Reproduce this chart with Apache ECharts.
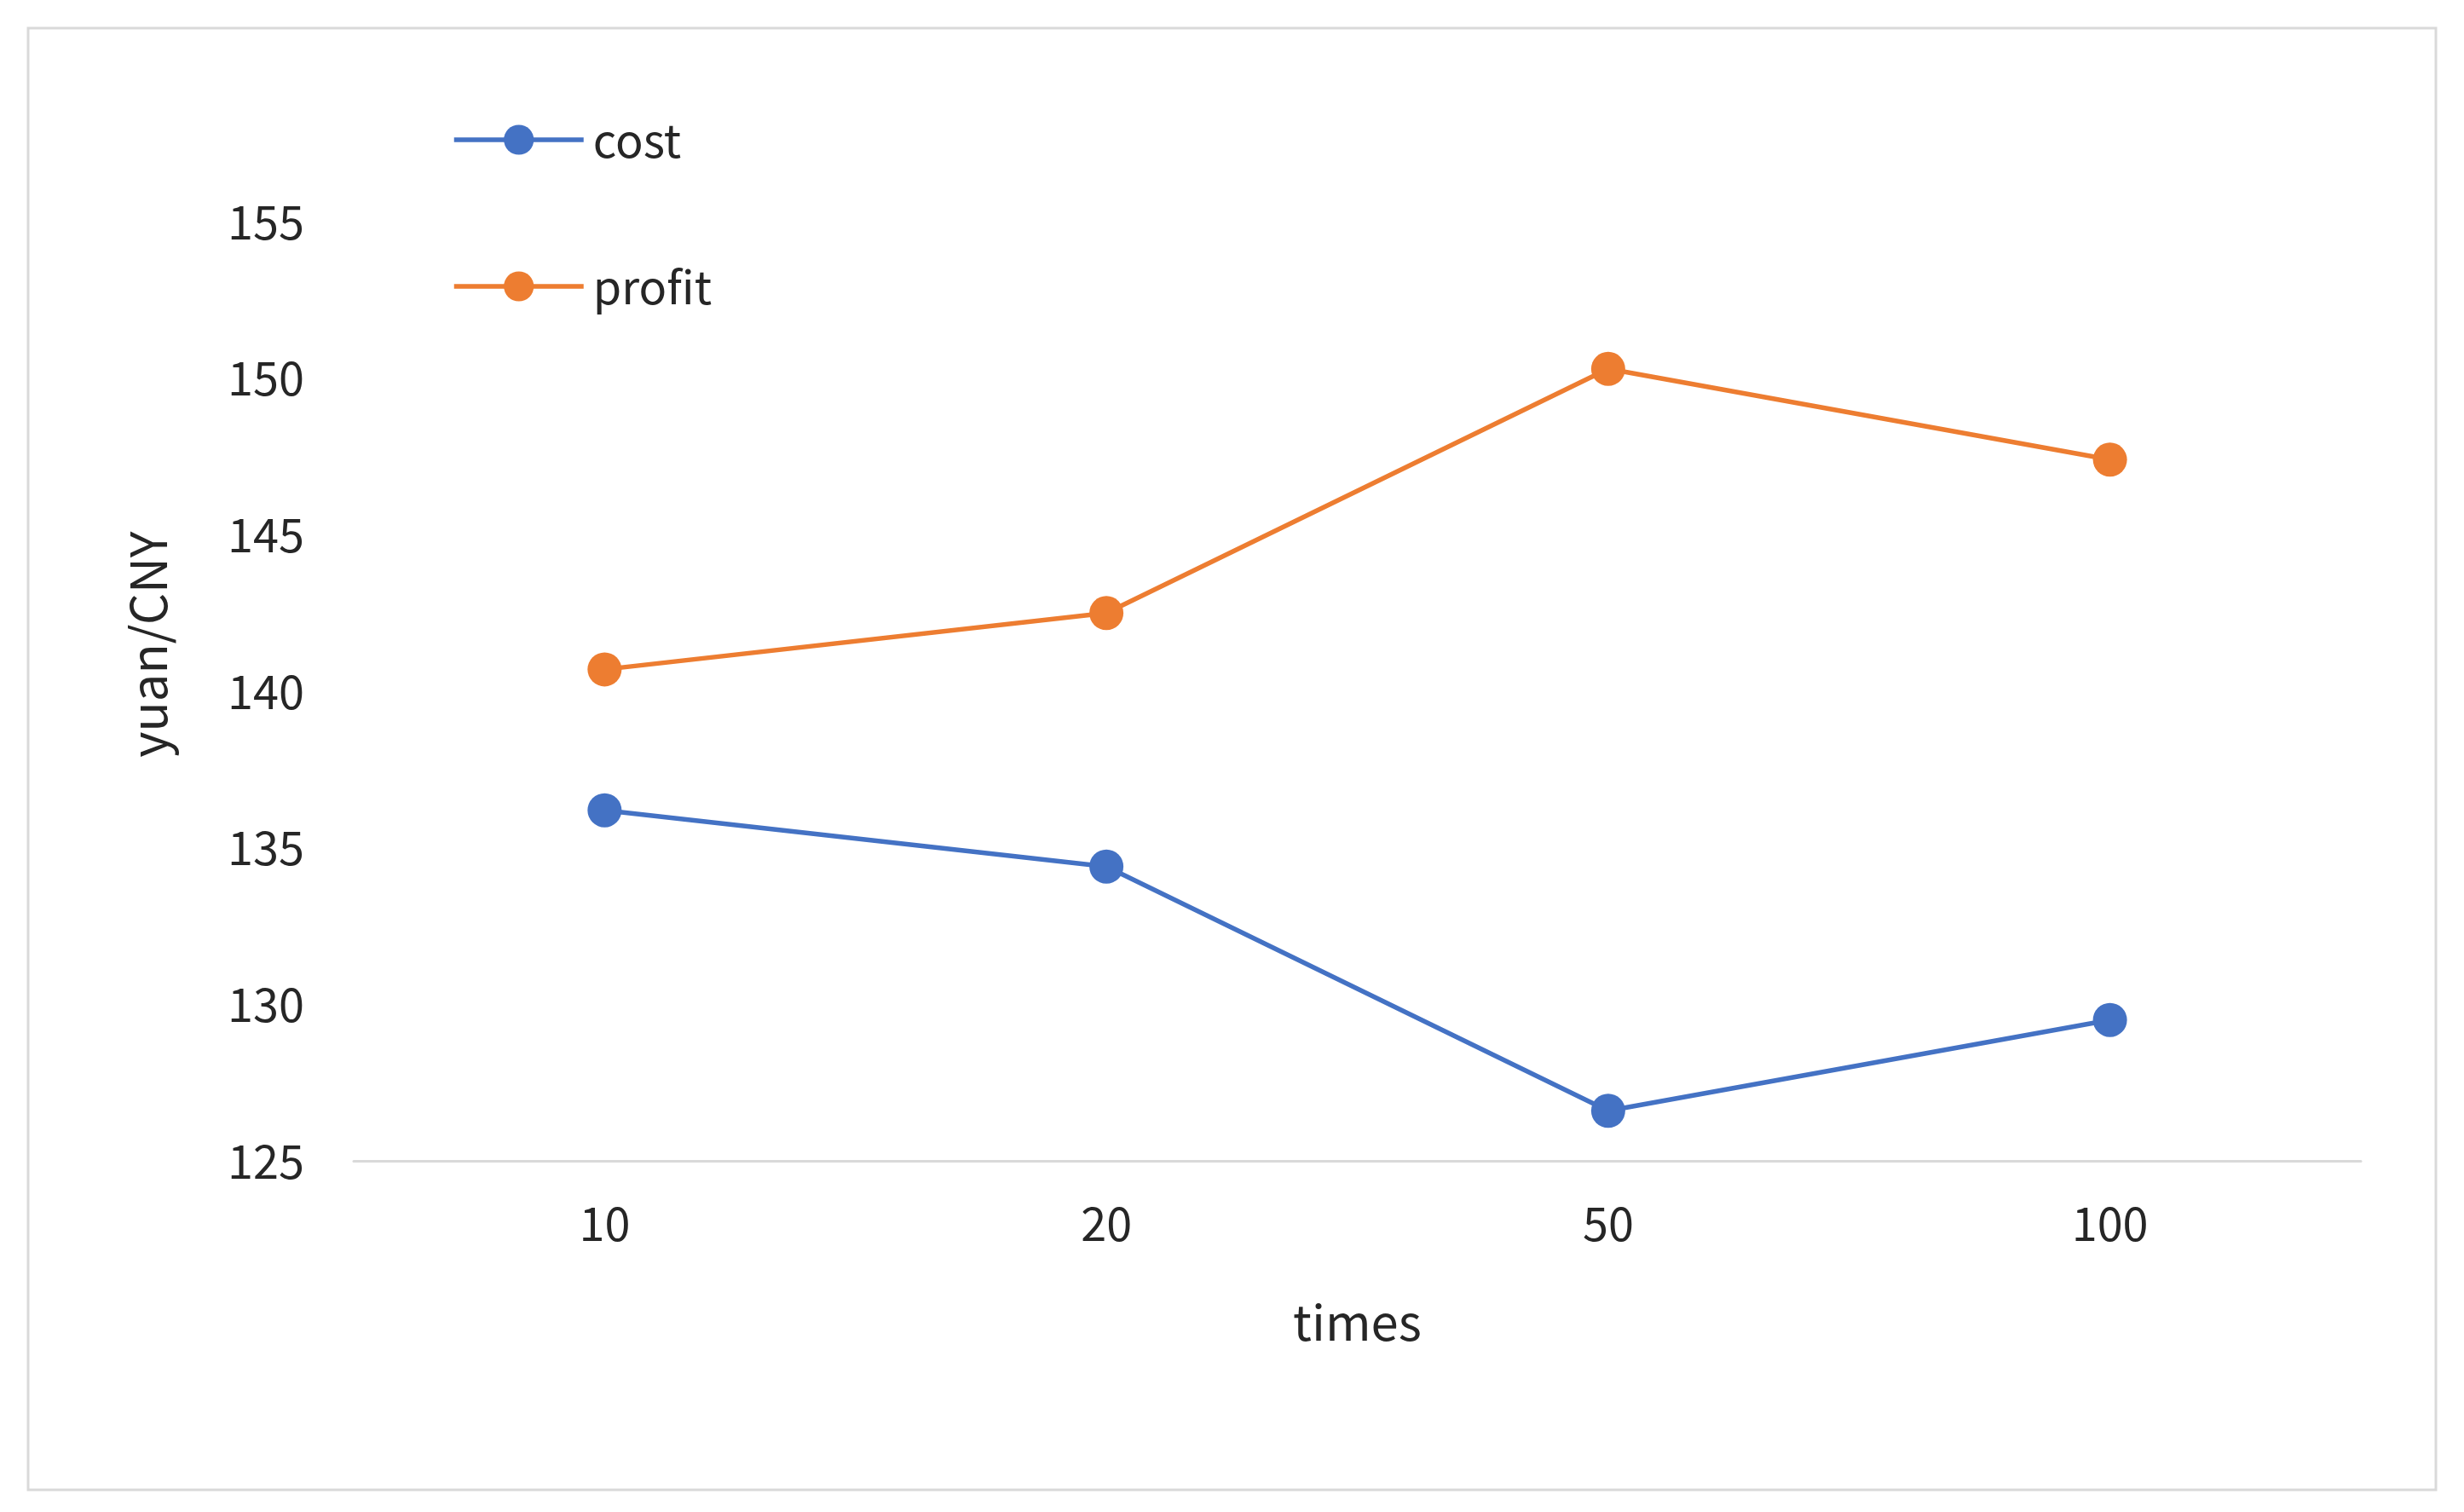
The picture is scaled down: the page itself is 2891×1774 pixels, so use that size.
<!DOCTYPE html>
<html>
<head>
<meta charset="utf-8">
<script src="https://cdn.jsdelivr.net/npm/echarts@6/dist/echarts.min.js"></script>
<style>html,body{margin:0;padding:0;background:#fff}#main{width:2891px;height:1774px}</style>
</head>
<body>
<div id="main"></div>
<script>
// 数据
var categories = ['10', '20', '50', '100'];
var cost = [136.2, 134.4, 126.6, 129.5];
var profit = [140.7, 142.5, 150.3, 147.4];

var myChart = echarts.init(document.getElementById('main'));
var font = 'Noto Sans CJK SC';
var option = {
  animation: false,
  textStyle: { fontFamily: font },
  graphic: [{
    type: 'rect',
    shape: { x: 33, y: 33, width: 2825, height: 1715 },
    style: { fill: 'none', stroke: '#D9D9D9', lineWidth: 3 }
  }],
  legend: {
    orient: 'vertical',
    left: 525, top: 132,
    itemWidth: 152, itemHeight: 44, itemGap: 118,
    lineStyle: { width: 5.5 },
    textStyle: { fontSize: 54, color: '#262626', fontFamily: font, padding: [0, 0, 0, 6] },
    data: ['cost', 'profit']
  },
  grid: { left: 415, right: 121, top: 150, bottom: 412 },
  xAxis: {
    type: 'category',
    data: categories,
    name: 'times',
    nameLocation: 'middle',
    nameGap: 160,
    nameTextStyle: { fontSize: 58, color: '#262626' },
    axisLine: { lineStyle: { color: '#D9D9D9', width: 3 } },
    axisTick: { show: false },
    axisLabel: { fontSize: 54, color: '#262626', margin: 46 }
  },
  yAxis: {
    type: 'value',
    min: 125, max: 158, interval: 5,
    name: 'yuan/CNY',
    nameLocation: 'middle',
    nameGap: 212,
    nameTextStyle: { fontSize: 58, color: '#262626' },
    axisLine: { show: false },
    axisTick: { show: false },
    splitLine: { show: false },
    axisLabel: { fontSize: 54, color: '#262626', margin: 58, showMaxLabel: false }
  },
  series: [
    {
      name: 'cost', type: 'line', data: cost,
      symbol: 'circle', symbolSize: 40,
      itemStyle: { color: '#4472C4' },
      lineStyle: { color: '#4472C4', width: 5.5 }
    },
    {
      name: 'profit', type: 'line', data: profit,
      symbol: 'circle', symbolSize: 40,
      itemStyle: { color: '#ED7D31' },
      lineStyle: { color: '#ED7D31', width: 5.5 }
    }
  ]
};
myChart.setOption(option);
</script>
</body>
</html>
